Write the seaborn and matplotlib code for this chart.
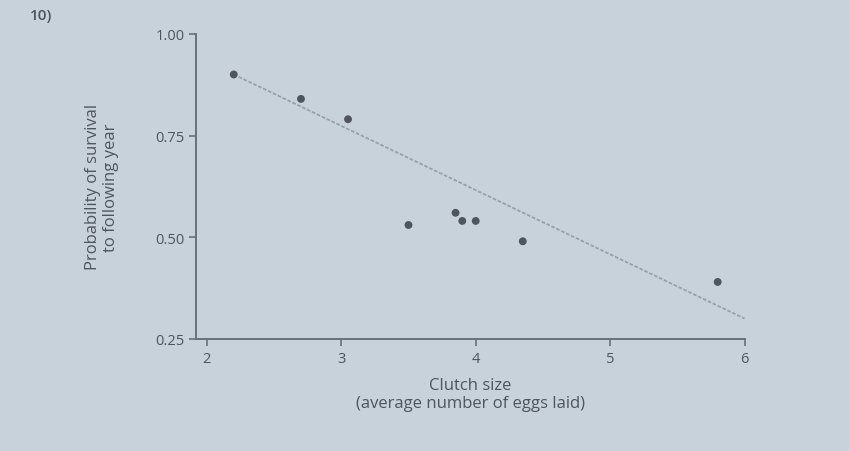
import seaborn as sns
import matplotlib.pyplot as plt
import pandas as pd

# clutch size vs survival
clutch_size = [2.2, 2.7, 3.05, 3.5, 3.85, 3.9, 4.0, 4.35, 5.8]
survival = [0.90, 0.84, 0.79, 0.53, 0.56, 0.54, 0.54, 0.49, 0.39]

# trend line drawn in the figure
trend_x = [2.2, 6.0]
trend_y = [0.90, 0.30]

x_ticks = [2, 3, 4, 5, 6]
y_ticks = [0.25, 0.50, 0.75, 1.00]

sns.set_style("ticks")
plt.rcParams['font.family'] = ['Open Sans', 'DejaVu Sans']

bg = '#c8d2da'
ink = '#4f555c'

fig = plt.figure(figsize=(8.49, 4.52), dpi=100, facecolor=bg)
ax = fig.add_axes([0.231, 0.248, 0.646, 0.675])
ax.set_facecolor(bg)

df = pd.DataFrame({"x": clutch_size, "y": survival})
trend = pd.DataFrame({"x": trend_x, "y": trend_y})

sns.lineplot(data=trend, x="x", y="y", ax=ax, color='#97a1aa', lw=1.3,
             linestyle=(0, (2, 1)))
sns.scatterplot(data=df, x="x", y="y", ax=ax, color=ink, s=32,
                edgecolor='none', zorder=3)

ax.set_xlim(1.92, 6.0)
ax.set_ylim(0.25, 1.0)
ax.set_xticks(x_ticks)
ax.set_yticks(y_ticks)
ax.set_yticklabels([f"{v:.2f}" for v in y_ticks])
sns.despine(ax=ax)
for s in ['left', 'bottom']:
    ax.spines[s].set_color('#6a7178')
    ax.spines[s].set_linewidth(1.4)
ax.tick_params(colors='#6a7178', labelcolor=ink, labelsize=10.5, length=5,
               width=1.2)

ax.set_xlabel("Clutch size\n(average number of eggs laid)", fontsize=12,
              color=ink, labelpad=8)
ax.set_ylabel("Probability of survival\nto following year", fontsize=12,
              color=ink, labelpad=26)

fig.text(0.035, 0.955, "10)", fontsize=11, color=ink, fontweight='semibold')

fig.savefig("out.png", dpi=100, facecolor=bg)
